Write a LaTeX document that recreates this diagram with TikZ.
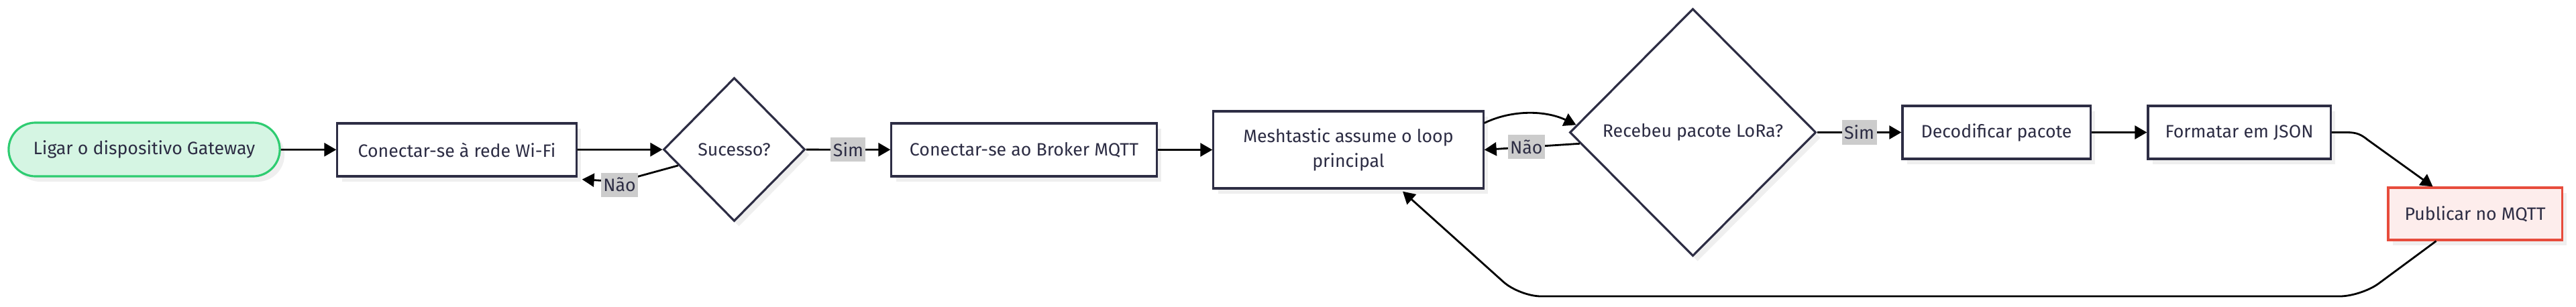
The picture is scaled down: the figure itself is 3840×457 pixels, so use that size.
\documentclass[tikz,border=0pt]{standalone}
\usepackage{fontspec}
\setmainfont{Fira Sans}
\usetikzlibrary{arrows.meta,shapes.geometric,shadows,calc}
\definecolor{ink}{HTML}{2D2D44}
\definecolor{shadowgray}{HTML}{EFEFEF}
\definecolor{lblgray}{HTML}{CCCCCC}
\definecolor{gborder}{HTML}{2ECC71}
\definecolor{gfill}{HTML}{D5F5E3}
\definecolor{rborder}{HTML}{E74C3C}
\definecolor{rfill}{HTML}{FDEDEC}
\begin{document}
\begin{tikzpicture}[x=0.01cm,y=-0.01cm,
  every node/.style={font=\fontsize{7.6}{10.6}\selectfont, text=ink},
  shd/.style={drop shadow={shadow xshift=0.07cm,shadow yshift=-0.08cm,fill=shadowgray,opacity=1}},
  box/.style={draw=ink, line width=0.9pt, fill=white, shd, inner sep=0pt, minimum height=0.79cm, align=center},
  dec/.style={diamond, draw=ink, line width=0.9pt, fill=white, shd, inner sep=0pt},
  arr/.style={line width=0.8pt, -{Triangle[length=0.18cm,width=0.2cm]}},
  lbl/.style={fill=lblgray, inner xsep=1pt, inner ysep=0pt, minimum height=0.36cm}
]
\useasboundingbox (0,0) rectangle (3840,457);
% nodes
\node[box, rounded corners=0.4cm, draw=gborder, fill=gfill, minimum width=4.04cm, minimum height=0.80cm] (start) at (215,223) {Ligar o dispositivo Gateway};
\node[box, minimum width=3.56cm] (wifi) at (681,223.5) {Conectar-se à rede Wi-Fi};
\node[dec, minimum width=2.11cm, minimum height=2.14cm] (suc) at (1094.5,223) {Sucesso?};
\node[box, minimum width=3.95cm] (broker) at (1526.5,223.5) {Conectar-se ao Broker MQTT};
\node[box, minimum width=4.02cm, minimum height=1.15cm] (mesh) at (2010,223.5) {Meshtastic assume o loop\\principal};
\node[dec, minimum width=3.67cm, minimum height=3.69cm] (lora) at (2523.5,197.5) {Recebeu pacote LoRa?};
\node[box, minimum width=2.80cm] (decod) at (2976,197.5) {Decodificar pacote};
\node[box, minimum width=2.72cm] (fmt) at (3338,197.5) {Formatar em JSON};
\node[box, draw=rborder, fill=rfill, minimum width=2.59cm, minimum height=0.78cm] (pub) at (3689.5,319) {Publicar no MQTT};
% connectors
\draw[arr] (start) -- (wifi);
\draw[arr] (wifi) -- (suc);
\draw[arr] ($(suc.west)!0.22!(suc.south)$) -- (923,271) -- ($(wifi.south east)+(7,3)$);
\node[lbl] (nao1) at (923.5,275.5) {Não};
\draw[arr] (suc) -- node[lbl] (sim1) {Sim} (broker);
\draw[arr] (broker) -- (mesh);
\draw[arr] ($(mesh.east)+(0,-40)$) .. controls (2255,163) and (2305,165) .. ($(lora.west)!0.06!(lora.north)$);
\draw[arr] ($(lora.west)!0.09!(lora.south)$) -- node[lbl, pos=0.56] (nao2) {Não} (mesh.east);
\draw[arr] (lora) -- node[lbl] (sim2) {Sim} (decod);
\draw[arr] (decod) -- (fmt);
\draw[arr] (fmt.east) -- ++(23,0) .. controls +(15,0) and +(-10,-8) .. (3530,209) -- ($(pub.north)+(-63,0)$);
\draw[arr, rounded corners=0.32cm] ($(pub.south)+(-58,0)$) -- (3520,442) -- (2265,442) -- ($(mesh.south)+(81,3)$);
\end{tikzpicture}
\end{document}
